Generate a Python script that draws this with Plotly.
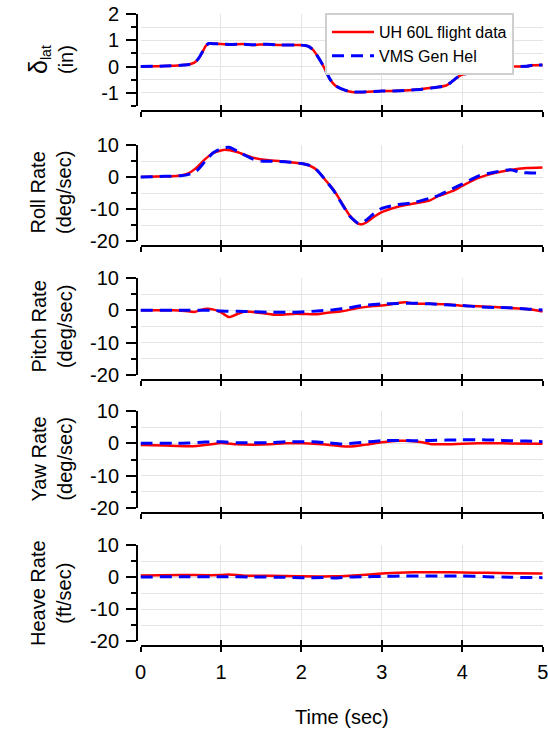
import plotly.graph_objects as go

# ---------------- data ----------------
series_names = ["UH 60L flight data", "VMS Gen Hel"]

# delta_lat (in)
t_dlat_fd = [0, 0.3, 0.5, 0.6, 0.67, 0.72, 0.77, 0.81, 0.85, 0.9, 1.0, 1.13, 1.27, 1.4, 1.57, 1.74, 1.97, 2.05, 2.1,
             2.15, 2.2, 2.25, 2.3, 2.36, 2.42, 2.5, 2.61, 2.74, 3.0, 3.23, 3.5, 3.7, 3.8, 3.86, 3.92, 3.98, 4.11, 4.24,
             4.37, 4.6, 4.8, 4.87, 5.0]
v_dlat_fd = [0, 0.02, 0.05, 0.08, 0.15, 0.3, 0.55, 0.78, 0.88, 0.87, 0.86, 0.83, 0.86, 0.82, 0.85, 0.82, 0.82, 0.8,
             0.75, 0.62, 0.4, 0.15, -0.15, -0.5, -0.72, -0.85, -0.96, -0.98, -0.93, -0.92, -0.85, -0.78, -0.72, -0.6,
             -0.45, -0.33, -0.22, -0.08, 0.0, 0.0, 0.01, 0.05, 0.06]
t_dlat_vms = [0, 0.3, 0.5, 0.6, 0.67, 0.72, 0.77, 0.81, 0.85, 0.9, 1.0, 1.13, 1.27, 1.4, 1.57, 1.74, 1.97, 2.05, 2.1,
              2.15, 2.2, 2.25, 2.3, 2.36, 2.42, 2.5, 2.61, 2.74, 3.0, 3.23, 3.5, 3.7, 3.8, 3.86, 3.92, 3.98, 4.11, 4.24,
              4.37, 4.6, 4.8, 4.87, 5.0]
v_dlat_vms = [0, 0.02, 0.05, 0.08, 0.15, 0.3, 0.56, 0.79, 0.88, 0.87, 0.86, 0.84, 0.85, 0.83, 0.85, 0.82, 0.82, 0.8,
              0.75, 0.62, 0.4, 0.15, -0.15, -0.5, -0.72, -0.85, -0.96, -0.97, -0.93, -0.92, -0.86, -0.78, -0.72, -0.6,
              -0.45, -0.33, -0.22, -0.08, 0.0, 0.0, 0.01, 0.05, 0.06]

# roll rate (deg/sec)
t_roll_fd = [0, 0.3, 0.5, 0.6, 0.7, 0.8, 0.9, 1.0, 1.05, 1.2, 1.4, 1.6, 1.8, 2.0, 2.1, 2.2, 2.3, 2.4, 2.5, 2.6, 2.7,
             2.75, 2.8, 2.9, 3.0, 3.2, 3.4, 3.6, 3.7, 3.9, 4.0, 4.2, 4.4, 4.6, 4.8, 5.0]
v_roll_fd = [0, 0.2, 0.5, 1.2, 3.0, 5.5, 7.5, 8.3, 8.5, 7.8, 6.0, 5.2, 4.8, 4.2, 3.6, 2.0, -1.0, -4.0, -8.0, -12.0,
             -14.5, -14.8, -14.3, -12.5, -11.0, -9.3, -8.3, -7.3, -6.0, -4.2, -2.8, -0.3, 1.2, 2.2, 2.8, 3.0]
t_roll_vms = [0, 0.3, 0.5, 0.6, 0.7, 0.8, 0.9, 1.0, 1.1, 1.25, 1.4, 1.5, 1.6, 1.8, 2.0, 2.1, 2.2, 2.3, 2.4, 2.5, 2.6,
              2.7, 2.75, 2.8, 2.9, 3.0, 3.2, 3.4, 3.6, 3.7, 3.8, 3.9, 4.0, 4.2, 4.4, 4.6, 4.7, 4.8, 5.0]
v_roll_vms = [0, 0.2, 0.4, 0.8, 2.0, 4.8, 7.5, 8.8, 9.3, 7.4, 5.6, 5.0, 4.9, 4.8, 4.2, 3.6, 2.0, -1.0, -4.2, -8.2,
              -12.2, -14.4, -14.5, -13.6, -11.5, -9.8, -8.6, -8.0, -6.6, -5.8, -4.6, -3.4, -2.2, 0.3, 1.5, 2.3, 1.6,
              1.3, 1.2]

# pitch rate (deg/sec)
t_pitch_fd = [0, 0.4, 0.55, 0.67, 0.75, 0.82, 0.9, 1.0, 1.1, 1.2, 1.3, 1.5, 1.7, 1.9, 2.0, 2.2, 2.3, 2.5, 2.7, 2.9,
              3.0, 3.1, 3.2, 3.3, 3.4, 3.6, 3.8, 4.0, 4.2, 4.4, 4.6, 4.8, 4.9, 5.0]
v_pitch_fd = [0, 0, -0.2, -0.5, 0.1, 0.5, 0.3, -0.6, -2.1, -1.2, -0.4, -0.8, -1.4, -1.1, -1.1, -1.2, -0.8, -0.3, 0.7,
              1.3, 1.5, 1.8, 2.3, 2.5, 2.1, 2.0, 1.9, 1.4, 1.3, 1.0, 0.7, 0.4, 0.1, -0.4]
t_pitch_vms = [0, 0.5, 0.9, 1.0, 1.2, 1.4, 1.6, 1.8, 2.0, 2.2, 2.4, 2.6, 2.7, 2.9, 3.0, 3.2, 3.4, 3.6, 3.8, 4.0, 4.2,
               4.4, 4.6, 4.8, 5.0]
v_pitch_vms = [0, 0, 0, -0.2, -0.3, -0.4, -0.6, -0.6, -0.5, -0.2, 0.2, 0.8, 1.3, 1.8, 2.0, 2.1, 2.2, 2.0, 1.7, 1.5,
               1.1, 0.9, 0.8, 0.4, 0.1]

# yaw rate (deg/sec)
t_yaw_fd = [0, 0.3, 0.6, 0.7, 0.9, 1.0, 1.2, 1.4, 1.6, 1.8, 2.0, 2.2, 2.4, 2.6, 2.8, 3.0, 3.2, 3.3, 3.5, 3.6, 3.8,
            4.0, 4.2, 4.5, 5.0]
v_yaw_fd = [-0.5, -0.7, -0.9, -0.8, -0.2, 0.1, -0.3, -0.4, -0.3, 0.0, 0.0, -0.2, -0.6, -1.0, -0.4, 0.3, 0.8, 0.8,
            0.3, -0.2, -0.3, -0.1, 0.0, 0.0, -0.1]
t_yaw_vms = [0, 0.4, 0.6, 0.8, 1.0, 1.2, 1.4, 1.6, 1.8, 2.0, 2.2, 2.35, 2.5, 2.7, 2.9, 3.0, 3.2, 3.4, 3.6, 3.8, 4.0,
             4.2, 4.4, 4.6, 4.8, 5.0]
v_yaw_vms = [0.0, 0.0, 0.1, 0.4, 0.5, 0.2, 0.2, 0.2, 0.5, 0.5, 0.4, 0.1, -0.2, 0.2, 0.6, 0.8, 0.9, 0.8, 0.9, 1.0,
             1.1, 1.1, 1.0, 0.8, 0.7, 0.5]

# heave rate (ft/sec)
t_heave_fd = [0, 0.5, 1.0, 1.1, 1.3, 1.6, 2.0, 2.4, 2.6, 2.8, 3.0, 3.3, 3.5, 3.7, 4.0, 4.3, 4.6, 5.0]
v_heave_fd = [0.5, 0.6, 0.6, 0.8, 0.4, 0.4, 0.2, 0.2, 0.4, 0.7, 1.1, 1.4, 1.5, 1.5, 1.4, 1.3, 1.2, 1.1]
t_heave_vms = [0, 0.5, 1.0, 1.4, 1.8, 2.0, 2.3, 2.4, 2.6, 2.8, 3.0, 3.3, 3.6, 4.0, 4.3, 4.6, 5.0]
v_heave_vms = [0.0, 0.1, 0.1, 0.0, -0.1, -0.2, -0.2, -0.3, 0.0, 0.1, 0.2, 0.3, 0.3, 0.3, 0.1, -0.1, -0.2]

x_tick_vals = [0, 1, 2, 3, 4, 5]
x_tick_text = ["0", "1", "2", "3", "4", "5"]
dlat_tick_vals = [-1, 0, 1, 2]
dlat_tick_text = ["-1", "0", "1", "2"]
rate_tick_vals = [-20, -10, 0, 10]
rate_tick_text = ["-20", "-10", "0", "10"]

panel_titles = [
    '<span style="font-size:25px">δ</span><sub>lat</sub><br>(in)',
    "Roll Rate<br>(deg/sec)",
    "Pitch Rate<br>(deg/sec)",
    "Yaw Rate<br>(deg/sec)",
    "Heave Rate<br>(ft/sec)",
]
x_title = "Time (sec)"

# ---------------- layout geometry (pixels) ----------------
W, H = 548, 732
FONT = "Liberation Sans, Arial, sans-serif"
X0_PX, X5_PX = 140.5, 542.7
YAXIS_PX = 137.0
GAP = 4.5
panel_px = [(14, 106), (145, 241), (278, 375), (411, 508), (545, 641)]
yranges = [[-1.5, 2], [-20, 10], [-20, 10], [-20, 10], [-20, 10]]
grid_col = "#e4e4e4"

panels = [
    (t_dlat_fd, v_dlat_fd, t_dlat_vms, v_dlat_vms, dlat_tick_vals, dlat_tick_text, 0.5),
    (t_roll_fd, v_roll_fd, t_roll_vms, v_roll_vms, rate_tick_vals, rate_tick_text, 5),
    (t_pitch_fd, v_pitch_fd, t_pitch_vms, v_pitch_vms, rate_tick_vals, rate_tick_text, 5),
    (t_yaw_fd, v_yaw_fd, t_yaw_vms, v_yaw_vms, rate_tick_vals, rate_tick_text, 5),
    (t_heave_fd, v_heave_fd, t_heave_vms, v_heave_vms, rate_tick_vals, rate_tick_text, 5),
]

fig = go.Figure()
layout = dict(
    width=W, height=H,
    margin=dict(l=0, r=0, t=0, b=0, pad=0, autoexpand=False),
    paper_bgcolor="white", plot_bgcolor="white",
    font=dict(family=FONT, size=20, color="black"),
    showlegend=True,
    legend=dict(x=325 / W, y=1 - 13 / H, xanchor="left", yanchor="top",
                bgcolor="white", bordercolor="#cfcfcf", borderwidth=2,
                font=dict(family=FONT, size=16, color="black"),
                itemwidth=42, tracegroupgap=0),
    annotations=[],
)

xdom = [X0_PX / W, X5_PX / W]
n = len(panels)
for i, (tf, vf, tv, vv, ytv, ytt, minor_dt) in enumerate(panels):
    k = i + 1
    ksfx = "" if k == 1 else str(k)
    top, bot = panel_px[i]
    ydom = [1 - bot / H, 1 - top / H]
    xpos = 1 - (bot + GAP) / H
    last = (i == n - 1)

    fig.add_trace(go.Scatter(x=tf, y=vf, mode="lines", name=series_names[0],
                             line=dict(color="#ff0000", width=2.5, shape="spline", smoothing=0.6),
                             xaxis="x" + ksfx, yaxis="y" + ksfx, showlegend=(i == 0), legendrank=1,
                             hoverinfo="skip"))
    fig.add_trace(go.Scatter(x=tv, y=vv, mode="lines", name=series_names[1],
                             line=dict(color="#0000ff", width=3, dash="12px,7px", shape="spline", smoothing=0.6),
                             xaxis="x" + ksfx, yaxis="y" + ksfx, showlegend=(i == 0), legendrank=2,
                             hoverinfo="skip"))

    layout["xaxis" + ksfx] = dict(
        domain=xdom, anchor="free", position=xpos, range=[0, 5],
        showline=True, linecolor="black", linewidth=2,
        tickmode="array", tickvals=x_tick_vals, ticktext=x_tick_text,
        ticks="inside", ticklen=5, tickwidth=2, tickcolor="black",
        showticklabels=False, showgrid=True, gridcolor=grid_col, gridwidth=1,
        zeroline=False, fixedrange=True, automargin=False,
    )
    layout["yaxis" + ksfx] = dict(
        domain=ydom, anchor="free", position=YAXIS_PX / W, range=yranges[i],
        showline=True, linecolor="black", linewidth=2,
        tickmode="array", tickvals=ytv, ticktext=ytt,
        ticks="outside", ticklen=10, tickwidth=2, tickcolor="black",
        tickfont=dict(size=20, color="black"), ticklabelstandoff=3,
        showgrid=True, gridcolor=grid_col, gridwidth=1, zeroline=False,
        minor=dict(dtick=minor_dt, tick0=0, ticks="outside", ticklen=5, tickwidth=2, tickcolor="black",
                   showgrid=True, gridcolor=grid_col, gridwidth=1),
        fixedrange=True, automargin=False,
    )

    # second x axis on the same line, ticks pointing downward (ticks crossing the axis line)
    k2 = n + k
    layout["xaxis" + str(k2)] = dict(
        overlaying="x" + ksfx, anchor="free", position=xpos, range=[0, 5],
        showline=False, tickmode="array", tickvals=x_tick_vals, ticktext=x_tick_text,
        ticks="outside", ticklen=5, tickwidth=2, tickcolor="black",
        showticklabels=last, tickfont=dict(size=20, color="black"),
        ticklabelstandoff=3, ticklabeloverflow="allow",
        showgrid=False, zeroline=False, fixedrange=True, automargin=False,
    )
    fig.add_trace(go.Scatter(x=[None], y=[None], mode="lines", xaxis="x" + str(k2), yaxis="y" + ksfx,
                             showlegend=False, hoverinfo="skip"))

    layout["annotations"].append(dict(
        text=panel_titles[i], textangle=-90, x=51 / W, y=1 - ((top + bot) / 2) / H,
        xref="paper", yref="paper", xanchor="center", yanchor="middle", showarrow=False,
        font=dict(family=FONT, size=20, color="black"),
    ))

layout["annotations"].append(dict(
    text=x_title, x=(X0_PX + X5_PX) / 2 / W, y=1 - 717 / H, xref="paper", yref="paper",
    xanchor="center", yanchor="middle", showarrow=False, font=dict(family=FONT, size=20, color="black"),
))

fig.update_layout(**layout)
fig.write_html("out.html")
